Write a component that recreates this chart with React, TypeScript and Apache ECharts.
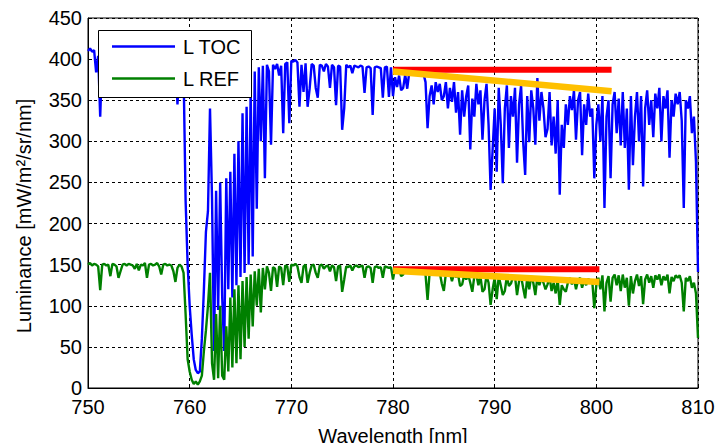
import React, { useEffect, useRef } from "react";
import * as echarts from "echarts";

// Wavelength grid: 750 nm to 810 nm, one sample every 0.2 nm
const WL_START = 750;
const WL_STEP = 0.2;
const X_TICKS = [750, 760, 770, 780, 790, 800, 810];
const Y_TICKS = [0, 50, 100, 150, 200, 250, 300, 350, 400, 450];

const NAME_TOC = "L TOC";
const NAME_REF = "L REF";

// L TOC radiance (blue)
const lToc = [
  410, 413, 409, 411, 384, 404, 330, 405, 408, 404,
  402, 405, 398, 403, 400, 404, 396, 401, 403, 399,
  402, 398, 404, 400, 397, 403, 401, 399, 402, 400,
  403, 399, 401, 397, 402, 400, 398, 403, 400, 396,
  401, 399, 395, 398, 345, 392, 388, 385, 228, 150,
  100, 65, 35, 22, 18, 20, 60, 120, 190, 215,
  340, 230, 45, 240, 95, 250, 110, 45, 255, 120,
  263, 110, 285, 125, 300, 135, 334, 140, 342, 150,
  362, 160, 385, 218, 390, 300, 392, 255, 393, 385,
  296, 393, 388, 394, 380, 392, 310, 394, 396, 322,
  398, 397, 399, 396, 342, 393, 360, 395, 342, 364,
  394, 392, 365, 353, 393, 392, 385, 394, 391, 365,
  393, 390, 344, 392, 391, 314, 340, 393, 390, 392,
  383, 392, 391, 390, 392, 391, 359, 390, 391, 389,
  332, 390, 391, 390, 389, 353, 390, 391, 354, 390,
  355, 378, 366, 380, 362, 365, 381, 364, 384, 386,
  385, 384, 386, 383, 385, 382, 372, 316, 355, 368,
  345, 372, 360, 370, 350, 355, 372, 340, 365, 348,
  372, 335, 360, 308, 362, 330, 355, 368, 290, 352,
  330, 370, 345, 362, 302, 350, 370, 320, 241, 290,
  340, 263, 365, 320, 249, 340, 368, 292, 355, 330,
  365, 274, 345, 368, 300, 259, 355, 299, 362, 340,
  296, 377, 325, 360, 340, 305, 315, 360, 295, 330,
  285, 350, 235, 320, 292, 345, 320, 355, 338, 362,
  302, 350, 360, 283, 345, 320, 358, 330, 340, 255,
  320, 345, 300, 355, 219, 330, 350, 255, 345, 360,
  310, 352, 295, 360, 292, 340, 241, 355, 271, 330,
  360, 300, 355, 245, 340, 362, 320, 350, 305, 358,
  340, 365, 300, 355, 340, 362, 280, 350, 330, 358,
  345, 360, 325, 219, 350, 340, 355, 310, 330, 275,
  141,
];

// L REF radiance (green)
const lRef = [
  150, 152, 149, 151, 150, 148, 119, 150, 151, 149,
  150, 136, 151, 150, 148, 134, 142, 150, 151, 149,
  151, 150, 149, 145, 151, 143, 150, 149, 152, 134,
  150, 151, 149, 150, 152, 148, 138, 150, 151, 149,
  150, 149, 142, 129, 146, 150, 148, 140, 90, 35,
  20, 10, 5, 8, 4, 8, 15, 45, 70, 100,
  140, 30, 10, 90, 12, 100, 15, 10, 75, 20,
  110, 25, 120, 30, 125, 35, 130, 50, 135, 60,
  138, 75, 142, 100, 145, 92, 146, 120, 148, 140,
  118, 147, 145, 123, 148, 146, 125, 149, 148, 129,
  150, 149, 151, 148, 135, 128, 148, 150, 128, 140,
  149, 150, 140, 134, 149, 150, 145, 148, 149, 142,
  149, 147, 130, 148, 149, 117, 132, 148, 147, 149,
  143, 148, 149, 147, 148, 149, 134, 147, 148, 146,
  128, 147, 148, 146, 147, 134, 148, 147, 146, 147,
  132, 146, 144, 145, 136, 138, 145, 144, 145, 143,
  144, 143, 144, 142, 143, 142, 138, 107, 140, 141,
  140, 141, 138, 140, 127, 118, 139, 137, 140, 130,
  139, 135, 138, 124, 126, 137, 132, 138, 128, 117,
  136, 138, 125, 136, 117, 120, 137, 128, 101, 120,
  134, 108, 136, 125, 113, 118, 136, 124, 127, 135,
  136, 113, 130, 136, 122, 109, 134, 120, 136, 128,
  113, 135, 125, 134, 128, 120, 126, 135, 118, 128,
  115, 132, 101, 125, 120, 117, 128, 134, 126, 133,
  120, 131, 134, 122, 131, 125, 133, 128, 130, 97,
  125, 134, 120, 137, 93, 128, 136, 105, 134, 138,
  125, 137, 118, 138, 122, 134, 100, 136, 115, 130,
  138, 124, 136, 102, 132, 138, 128, 136, 122, 137,
  132, 138, 125, 136, 131, 138, 115, 135, 130, 137,
  134, 137, 128, 93, 134, 130, 136, 122, 128, 115,
  61,
];

// Reference segments drawn over the spectra: [wavelength, value]
const tocFlat = [[780, 387], [801.5, 387]];
const tocSlope = [[780, 385], [801.5, 361]];
const refFlat = [[780, 144.5], [800.3, 144.5]];
const refSlope = [[780, 142.5], [800.3, 129]];

const FONT = "'Liberation Sans', Arial, sans-serif";

function toPairs(vals: number[]) {
  return vals.map((v, i) => [Math.round((WL_START + i * WL_STEP) * 10) / 10, v]);
}

export default function App() {
  const ref = useRef<HTMLDivElement>(null);
  useEffect(() => {
    if (!ref.current) return;
    const chart = echarts.init(ref.current, undefined, { renderer: "svg" });
    const gridLine = { show: true, lineStyle: { color: "#000", type: [3, 3], width: 1 } };
    const option: any = {
      animation: false,
      backgroundColor: "#fff",
      grid: {
        left: 88, right: 17, top: 18, bottom: 55,
        show: true, borderColor: "#000", borderWidth: 1,
        containLabel: false, outerBoundsMode: "none",
      },
      xAxis: {
        type: "value",
        min: X_TICKS[0],
        max: X_TICKS[X_TICKS.length - 1],
        interval: 10,
        axisLine: { show: true, onZero: false, lineStyle: { color: "#000", width: 1 } },
        axisTick: { show: true, inside: true, length: 4, lineStyle: { color: "#000" } },
        axisLabel: { color: "#000", fontSize: 20, lineHeight: 16, fontFamily: FONT, margin: 11 },
        splitLine: gridLine,
        name: "Wavelength [nm]",
        nameLocation: "middle",
        nameGap: 38,
        nameTextStyle: { color: "#000", fontSize: 20, fontFamily: FONT },
      },
      yAxis: {
        type: "value",
        min: Y_TICKS[0],
        max: Y_TICKS[Y_TICKS.length - 1],
        interval: 50,
        axisLine: { show: true, lineStyle: { color: "#000", width: 1 } },
        axisTick: { show: true, inside: true, length: 4, lineStyle: { color: "#000" } },
        axisLabel: { color: "#000", fontSize: 20, lineHeight: 16, fontFamily: FONT, margin: 6 },
        splitLine: gridLine,
      },
      graphic: [
        {
          type: "text",
          x: 24,
          y: 216,
          rotation: Math.PI / 2,
          z: 100,
          style: {
            text: "Luminance [mW/m²/sr/nm]",
            fill: "#000",
            font: `20px ${FONT}`,
            textAlign: "center",
            textVerticalAlign: "middle",
          },
        },
        {
          type: "group",
          z: 100,
          children: [
            { type: "rect", shape: { x: 98.5, y: 30.5, width: 153, height: 67 }, style: { fill: "#fff", stroke: "#000", lineWidth: 1 }, z: 100 },
            { type: "line", shape: { x1: 112, y1: 46.5, x2: 175, y2: 46.5 }, style: { stroke: "#0000ff", lineWidth: 2.5 }, z: 101 },
            { type: "line", shape: { x1: 112, y1: 78.5, x2: 175, y2: 78.5 }, style: { stroke: "#008000", lineWidth: 2.5 }, z: 101 },
            { type: "text", x: 183, y: 47, z: 101, style: { text: NAME_TOC, fill: "#000", font: `20px ${FONT}`, textVerticalAlign: "middle" } },
            { type: "text", x: 183, y: 79, z: 101, style: { text: NAME_REF, fill: "#000", font: `20px ${FONT}`, textVerticalAlign: "middle" } },
          ],
        },
      ],
      series: [
        { name: NAME_TOC, type: "line", data: toPairs(lToc), showSymbol: false, symbol: "none", lineStyle: { color: "#0000ff", width: 2.4 }, z: 2 },
        { name: NAME_REF, type: "line", data: toPairs(lRef), showSymbol: false, symbol: "none", lineStyle: { color: "#008000", width: 2.4 }, z: 3 },
        { type: "line", data: tocFlat, symbol: "none", lineStyle: { color: "#ff0000", width: 6 }, z: 4 },
        { type: "line", data: tocSlope, symbol: "none", lineStyle: { color: "#ffc000", width: 6.5 }, z: 5 },
        { type: "line", data: refFlat, symbol: "none", lineStyle: { color: "#ff0000", width: 6 }, z: 4 },
        { type: "line", data: refSlope, symbol: "none", lineStyle: { color: "#ffc000", width: 6.5 }, z: 5 },
      ],
    };
    chart.setOption(option);
    return () => chart.dispose();
  }, []);
  return <div ref={ref} style={{ position: "fixed", left: 0, top: 0, width: 715, height: 443 }} />;
}
